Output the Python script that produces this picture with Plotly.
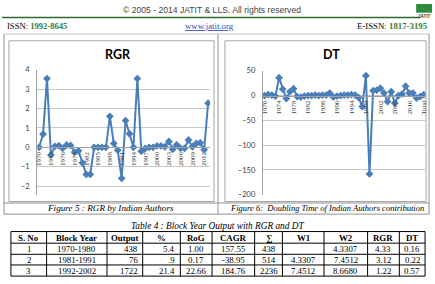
import plotly.graph_objects as go

W, H = 435, 284
def px(x): return x / W
def py(y): return 1 - y / H

# ---------------- data ----------------
rgr_years = list(range(1970, 2014))
rgr_values = [0, 0.68, 3.55, -0.4, 0.05, 0.08, -0.05, 0.12, 0.1, -0.25,
              -0.18, -0.8, -1.4, -1.4, 0, 0, 0, 0, 1.6, 0.2,
              -0.15, -1.6, 1.38, 0.7, 0, 3.55, -0.2, -0.05, 0, 0,
              0.07, 0.07, 0.03, 0.3, -0.1, 0.13, -0.05, -0.05, 0.38, 0.03,
              0.2, 0.23, -0.12, 2.28]
rgr_ticks = list(range(1970, 2013, 3))

dt_categories = [str(y) for y in range(1970, 2014)] + ["Total"]
dt_values = [0, 2, 1, -1, 36, 13, -6, 8, 14, -2,
             -3, -1, 0, 0, 1, 0, 1, 1, 5, -3,
             -1, 0, 1, 1, 2, 1, -4, -22, 40, -158,
             10, 11, 15, 5, -12, 8, -15, 0, 3, 19,
             5, 5, -5, -2, 2]
dt_ticks = dt_categories[::4]

table_header = ["S. No", "Block Year", "Output", "%", "RoG", "CAGR", "∑", "W1", "W2", "RGR", "DT"]
col_sno = ["1", "2", "3"]
col_block = ["1970-1980", "1981-1991", "1992-2002"]
col_output = ["438", "76", "1722"]
col_pct = ["5.4", ".9", "21.4"]
col_rog = ["1.00", "0.17", "22.66"]
col_cagr = ["157.55", "-38.95", "184.76"]
col_sum = ["438", "514", "2236"]
col_w1 = ["", "4.3307", "7.4512"]
col_w2 = ["4.3307", "7.4512", "8.6680"]
col_rgr = ["4.33", "3.12", "1.22"]
col_dt = ["0.16", "0.22", "0.57"]
table_columns = [col_sno, col_block, col_output, col_pct, col_rog, col_cagr,
                 col_sum, col_w1, col_w2, col_rgr, col_dt]

BLUE = "#4a7ebb"
GRID = "#c8c8c8"
AXIS = "#a0a0a0"
TXT = "#404040"

fig = go.Figure()
fig.add_trace(go.Scatter(x=rgr_years, y=rgr_values, mode="lines+markers",
                         line=dict(color=BLUE, width=2),
                         marker=dict(symbol="diamond", size=6, color=BLUE),
                         xaxis="x", yaxis="y", hoverinfo="skip"))
fig.add_trace(go.Scatter(x=dt_categories, y=dt_values, mode="lines+markers",
                         line=dict(color=BLUE, width=2),
                         marker=dict(symbol="diamond", size=6, color=BLUE),
                         xaxis="x2", yaxis="y2", hoverinfo="skip"))

common_y = dict(showgrid=True, gridcolor=GRID, gridwidth=1, showline=True,
                linecolor=AXIS, linewidth=1, zeroline=False, ticks="",
                tickfont=dict(family="Lato", size=7.5, color=TXT),
                ticklabelstandoff=5)
common_x = dict(showgrid=False, showline=True, linecolor=AXIS, linewidth=1,
                zeroline=False, ticks="", tickangle=-90,
                tickfont=dict(family="Liberation Serif", size=7, color=TXT),
                ticklabelstandoff=1)

fig.update_layout(
    width=W, height=H, margin=dict(l=0, r=0, t=0, b=0),
    paper_bgcolor="white", plot_bgcolor="white", showlegend=False,
    xaxis=dict(domain=[px(35.5), px(210)], range=[1969.5, 2013.5],
               anchor="free", position=py(148), tickmode="array",
               tickvals=rgr_ticks, **common_x),
    yaxis=dict(domain=[py(197), py(68)], range=[-2.45, 4], tickmode="linear",
               tick0=0, dtick=1, anchor="x", **common_y),
    xaxis2=dict(domain=[px(263.2), px(427.5)], range=[-0.5, 44.5], type="category",
                anchor="free", position=py(94.6), tickmode="array",
                tickvals=dt_ticks, **common_x),
    yaxis2=dict(domain=[py(197), py(69)], range=[-200, 50], tickmode="linear",
                tick0=0, dtick=50, anchor="x2", **common_y),
)

shapes = []
def hline(x0, x1, y, color, width=1):
    shapes.append(dict(type="line", xref="paper", yref="paper", x0=px(x0), x1=px(x1),
                       y0=py(y), y1=py(y), line=dict(color=color, width=width)))
def vline(x, y0, y1, color, width=1):
    shapes.append(dict(type="line", xref="paper", yref="paper", x0=px(x), x1=px(x),
                       y0=py(y0), y1=py(y1), line=dict(color=color, width=width)))
def rect(x0, y0, x1, y1, color, width=1):
    shapes.append(dict(type="rect", xref="paper", yref="paper", x0=px(x0), x1=px(x1),
                       y0=py(y1), y1=py(y0), line=dict(color=color, width=width),
                       layer="below"))

# page header line and logo
hline(0, 422, 14, "#2f6b2f", 1.5)
shapes.append(dict(type="path", xref="paper", yref="paper",
                   path=f"M {px(418)},{py(0)} L {px(434)},{py(0)} L {px(434)},{py(9)} L {px(418)},{py(9)} Z",
                   fillcolor="#2e8b3e", line=dict(width=0)))
# figure frame
hline(2, 431, 31, "#b9c9b9", 1)
hline(2, 431, 205.5, "#909090", 1)
hline(2, 431, 217, "#909090", 1)
vline(2, 31, 217, "#909090")
vline(218, 31, 217, "#909090")
vline(431, 31, 217, "#909090")
rect(7, 38, 214, 204, "#a6a6a6")
rect(225, 38, 428, 204, "#a6a6a6")

# table grid
col_edges = [9, 45, 106, 142, 180, 212, 255, 283, 325, 369, 401, 427]
row_edges = [235, 247, 258.5, 269.5, 281]
for yv in row_edges:
    hline(col_edges[0], col_edges[-1], yv, "black", 1)
for xv in col_edges:
    vline(xv, row_edges[0], row_edges[-1], "black", 1)
fig.update_layout(shapes=shapes)

ann = []
def text(x, y, s, size, family="Liberation Serif", color="black", xanchor="center"):
    ann.append(dict(x=px(x), y=py(y), xref="paper", yref="paper", text=s, showarrow=False,
                    xanchor=xanchor, yanchor="middle",
                    font=dict(family=family, size=size, color=color)))

text(212, 6, "© 2005 - 2014 JATIT &amp; LLS. All rights reserved", 8.6, "Liberation Sans", "#444444")
text(3, 23, "ISSN: <b><span style='color:#3a7a3a'>1992-8645</span></b>", 8.6, xanchor="left")
text(209, 23, "<u>www.jatit.org</u>", 8.8, color="#3050c0")
text(432, 23, "E-ISSN: <b><span style='color:#3a7a3a'>1817-3195</span></b>", 8.8, xanchor="right")
text(426, 13, "<b>JATIT</b>", 4.5, "Liberation Sans", "#333333")
text(117, 52, "<b>RGR</b>", 12.5, "Lato", "black")
text(333, 52, "<b>DT</b>", 12.5, "Lato", "black")
text(110, 211, "<i>Figure 5 : RGR by Indian Authors</i>", 9.2)
text(328, 211, "<i>Figure 6:  Doubling Time of Indian Authors contribution</i>", 8.5)
text(218, 229, "<i>Table 4 : Block Year Output with RGR and DT</i>", 9.3)

# table text
right_cols = {2, 3}
for ci, h in enumerate(table_header):
    xc = (col_edges[ci] + col_edges[ci + 1]) / 2
    text(xc, (row_edges[0] + row_edges[1]) / 2 + 0.5, f"<b>{h}</b>", 8.8)
for ci, col in enumerate(table_columns):
    for ri, v in enumerate(col):
        yc = (row_edges[ri + 1] + row_edges[ri + 2]) / 2 + 0.5
        if ci in right_cols:
            text(col_edges[ci + 1] - 3, yc, v, 8.8, xanchor="right")
        else:
            text((col_edges[ci] + col_edges[ci + 1]) / 2, yc, v, 8.8)
fig.update_layout(annotations=ann)

fig.write_html("out.html")
